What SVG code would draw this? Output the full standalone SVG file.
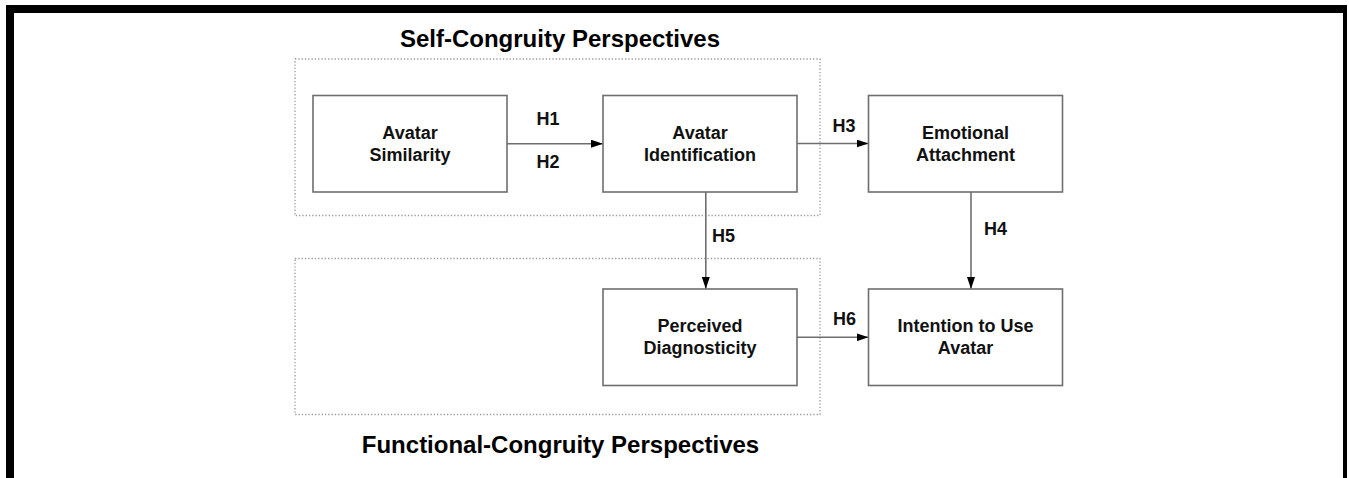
<svg xmlns="http://www.w3.org/2000/svg" width="1349" height="478" viewBox="0 0 1349 478">
<style>
.frame{fill:#000}
.group{fill:none;stroke:#9a9a9a;stroke-width:1.3;stroke-dasharray:1.3 2}
.box{fill:#fff;stroke:#6e6e6e;stroke-width:1.6}
.t{font-family:"Liberation Sans",Arial,sans-serif;font-weight:bold;font-size:18px;fill:#111;text-anchor:middle}
.title{font-family:"Liberation Sans",Arial,sans-serif;font-weight:bold;font-size:24px;fill:#000;text-anchor:middle}
.edge{fill:none;stroke:#6e6e6e;stroke-width:1.6;marker-end:url(#ah)}
</style>
<defs>
<marker id="ah" markerWidth="12" markerHeight="8" refX="12" refY="4" orient="auto" markerUnits="userSpaceOnUse">
<path d="M0,0 L12,4 L0,8 Z" fill="#000"/>
</marker>
</defs>
<rect width="1349" height="478" fill="#fff"/>
<g id="frame">
<rect class="frame" x="6" y="5" width="1341" height="8"/>
<rect class="frame" x="6" y="5" width="8" height="473"/>
<rect class="frame" x="1343" y="5" width="4" height="473"/>
</g>
<g id="self-congruity">
<rect class="group" x="295" y="59" width="525" height="156.5"/>
<text class="title" x="560" y="47">Self-Congruity Perspectives</text>
</g>
<g id="functional-congruity">
<rect class="group" x="295" y="258.5" width="525" height="156"/>
<text class="title" x="560.5" y="453">Functional-Congruity Perspectives</text>
</g>
<g id="connectors">
<line class="edge" x1="507" y1="143.7" x2="603" y2="143.7"/>
<line class="edge" x1="797" y1="143.5" x2="868.5" y2="143.5"/>
<line class="edge" x1="705.8" y1="192" x2="705.8" y2="289"/>
<line class="edge" x1="971" y1="192" x2="971" y2="289"/>
<line class="edge" x1="797" y1="337.3" x2="868.5" y2="337.3"/>
<text class="t" x="548" y="125">H1</text>
<text class="t" x="548" y="168">H2</text>
<text class="t" x="844" y="131.5">H3</text>
<text class="t" x="995.5" y="235">H4</text>
<text class="t" x="723.5" y="242">H5</text>
<text class="t" x="844.5" y="325">H6</text>
</g>
<g id="avatar-similarity">
<rect class="box" x="313" y="95.5" width="194" height="96.5"/>
<text class="t" x="410" y="138.5">Avatar</text>
<text class="t" x="410" y="160.5">Similarity</text>
</g>
<g id="avatar-identification">
<rect class="box" x="603" y="95.5" width="194" height="96.5"/>
<text class="t" x="700" y="138.5">Avatar</text>
<text class="t" x="700" y="160.5">Identification</text>
</g>
<g id="emotional-attachment">
<rect class="box" x="868.5" y="95.5" width="194" height="96.5"/>
<text class="t" x="965.5" y="138.5">Emotional</text>
<text class="t" x="965.5" y="160.5">Attachment</text>
</g>
<g id="perceived-diagnosticity">
<rect class="box" x="603" y="289" width="194" height="96.5"/>
<text class="t" x="700" y="331.5">Perceived</text>
<text class="t" x="700" y="353.5">Diagnosticity</text>
</g>
<g id="intention-to-use-avatar">
<rect class="box" x="868.5" y="289" width="194" height="96.5"/>
<text class="t" x="965.5" y="331.5">Intention to Use</text>
<text class="t" x="965.5" y="353.5">Avatar</text>
</g>
</svg>
